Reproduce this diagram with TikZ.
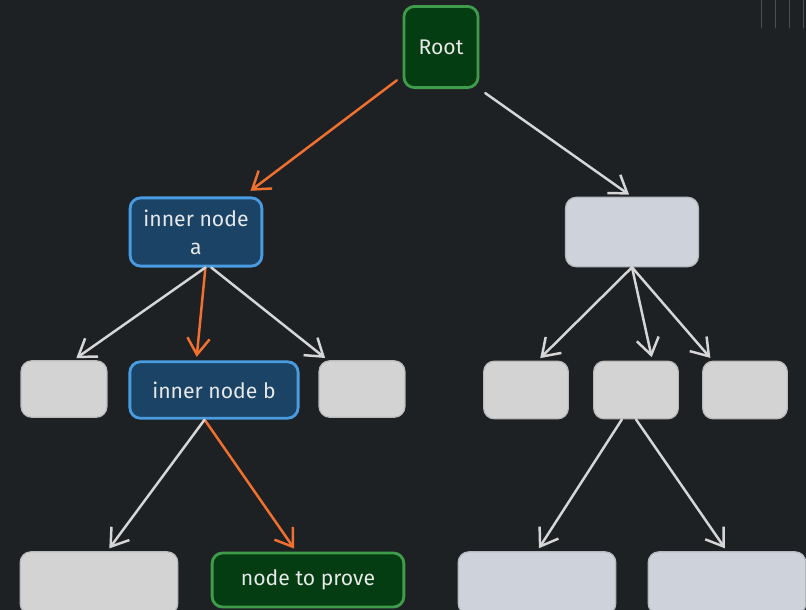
\documentclass[tikz,border=0pt]{standalone}
\usepackage{fontspec}
\setmainfont{Fira Sans}
\usetikzlibrary{arrows.meta}

\definecolor{bg}{HTML}{1E2124}
\definecolor{rootfill}{HTML}{043D12}
\definecolor{rootline}{HTML}{3F9C4A}
\definecolor{innerfill}{HTML}{1A4366}
\definecolor{innerline}{HTML}{4A9CE0}
\definecolor{boxgrey}{HTML}{D3D3D3}
\definecolor{boxblue}{HTML}{CED2DA}
\definecolor{arrgrey}{HTML}{D6D6D6}
\definecolor{proofline}{HTML}{F07030}
\definecolor{txt}{HTML}{E8E8E8}
\definecolor{faint}{HTML}{4A4E52}

\begin{document}
\begin{tikzpicture}[
    x=0.85pt,
    y=-0.85pt,
    line cap=round,
    line join=round,
    box/.style={
        rounded corners=9pt,
        line width=2.4pt,
        inner sep=0pt,
        align=center,
        text=txt,
        font=\fontsize{18}{24}\selectfont
    },
    rootbox/.style={box, fill=rootfill, draw=rootline},
    innerbox/.style={box, fill=innerfill, draw=innerline},
    greybox/.style={box, fill=boxgrey, draw=boxgrey!88!black, line width=1pt},
    bluegrey/.style={box, fill=boxblue, draw=boxblue!88!black, line width=1pt},
    edge/.style={
        line width=2.1pt,
        draw=arrgrey,
        -{Straight Barb[length=14pt,width=19pt,line width=2.1pt]},
        shorten >=3pt
    },
    proof/.style={edge, draw=proofline}
]

% =================================================
% Фон
% =================================================

\fill[bg] (0,0) rectangle (806,610);
\clip (0,0) rectangle (806,610);

% полоски в правом верхнем углу
\foreach \xx in {761,775,789,803}
    \draw[faint, line width=0.6pt] (\xx,0) -- (\xx,28);

% =================================================
% Верхний уровень
% =================================================

\node[rootbox, minimum width=63pt, minimum height=69pt]
    (root) at (441,47) {Root};

% =================================================
% Второй уровень
% =================================================

\node[innerbox, minimum width=112pt, minimum height=58pt]
    (innerA) at (196,232) {inner node\\a};
\node[bluegrey, minimum width=113pt, minimum height=59pt]
    (rightTop) at (632,232) {};

% =================================================
% Третий уровень
% =================================================

% Левое поддерево
\node[greybox, minimum width=73pt, minimum height=48pt]
    (leftA) at (64,389) {};
\node[innerbox, minimum width=143pt, minimum height=48pt]
    (innerB) at (214,390) {inner node b};
\node[greybox, minimum width=73pt, minimum height=48pt]
    (rightA) at (362,389) {};

% Правое поддерево
\node[greybox, minimum width=72pt, minimum height=49pt]
    (leafR1) at (526,390) {};
\node[greybox, minimum width=72pt, minimum height=49pt]
    (leafR2) at (636,390) {};
\node[greybox, minimum width=72pt, minimum height=49pt]
    (leafR3) at (745,390) {};

% =================================================
% Нижний уровень
% =================================================

\node[greybox, minimum width=134pt, minimum height=53pt]
    (bottomL) at (99,583) {};
\node[rootbox, minimum width=163pt, minimum height=46pt]
    (prove) at (308,580) {node to prove};
\node[bluegrey, minimum width=134pt, minimum height=53pt]
    (bottomR1) at (537,583) {};
\node[bluegrey, minimum width=134pt, minimum height=53pt]
    (bottomR2) at (727,583) {};

% =================================================
% Рёбра
% =================================================

% Путь к доказываемой вершине
\draw[proof, shorten <=6pt, shorten >=8pt] (root) -- (innerA);
\draw[proof] ([xshift=8pt]innerA.south) -- ([xshift=-15pt]innerB.north);
\draw[proof] ([xshift=-8pt]innerB.south) -- ([xshift=-10pt]prove.north);

% Остальные рёбра
\draw[edge, shorten <=6pt] (root.south east) -- (rightTop.north);
\draw[edge] ([xshift=8pt]innerA.south) -- ([xshift=8pt]leftA.north);
\draw[edge] ([xshift=13pt]innerA.south) -- ([xshift=8pt]rightA.north west);
\draw[edge] ([xshift=-8pt]innerB.south) -- ([xshift=7pt]bottomL.north);

\draw[edge] (rightTop.south) -- ([xshift=10pt]leafR1.north);
\draw[edge] (rightTop.south) -- ([xshift=14pt]leafR2.north);
\draw[edge] (rightTop.south) -- ([xshift=9pt]leafR3.north west);
\draw[edge] ([xshift=-12pt]leafR2.south) -- (bottomR1.north);
\draw[edge] (leafR2.south) -- (bottomR2.north);

\end{tikzpicture}
\end{document}
